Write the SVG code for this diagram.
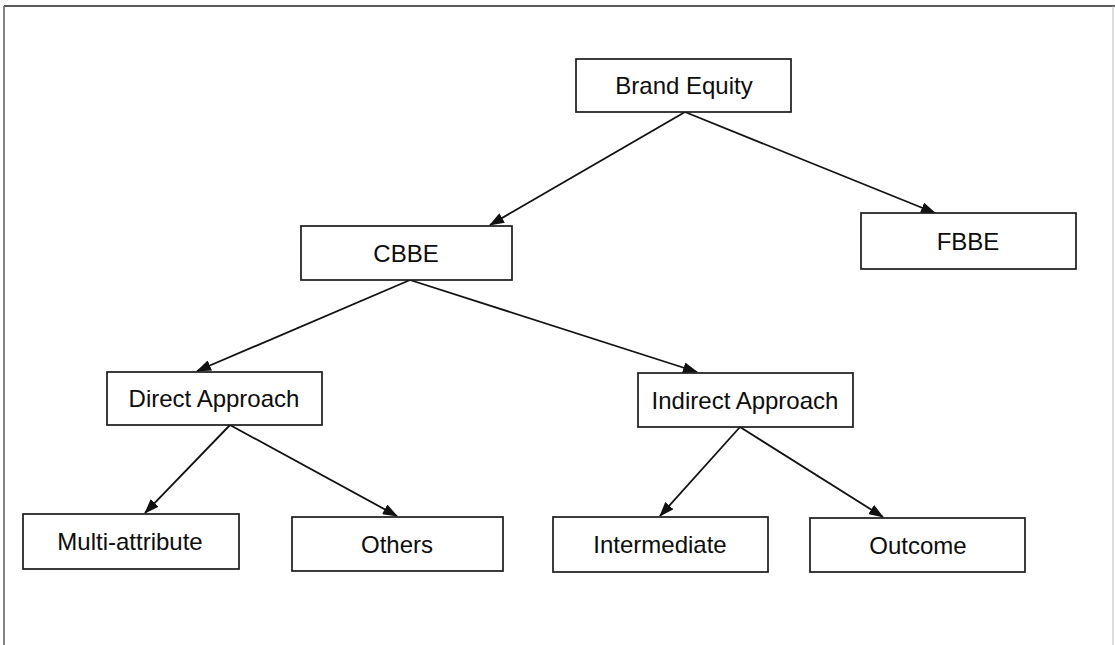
<svg xmlns="http://www.w3.org/2000/svg" width="1115" height="645" viewBox="0 0 1115 645">
  <style>
    .box { fill: #ffffff; stroke: #1a1a1a; stroke-width: 1.7; }
    .label { font-family: "Liberation Sans", Arial, sans-serif; font-size: 24px; fill: #0d0d0d; text-anchor: middle; }
    .link { stroke: #111111; stroke-width: 1.8; fill: none; marker-end: url(#arrow); }
  </style>
  <defs>
    <marker id="arrow" viewBox="0 0 15 11" refX="14" refY="5.5" markerWidth="15" markerHeight="11" markerUnits="userSpaceOnUse" orient="auto">
      <path d="M0,0 L15,5.5 L0,11 Z" fill="#111111"/>
    </marker>
  </defs>

  <rect width="1115" height="645" fill="#ffffff"/>

  <!-- frame -->
  <g id="frame">
    <line x1="4" y1="6" x2="1115" y2="6" stroke="#222222" stroke-width="1.6"/>
    <line x1="4" y1="6" x2="4" y2="645" stroke="#666666" stroke-width="1.6"/>
    <line x1="1113" y1="6" x2="1113" y2="645" stroke="#bbbbbb" stroke-width="1"/>
  </g>

  <!-- connectors -->
  <g id="connectors">
    <line class="link" x1="685" y1="112" x2="490" y2="225"/>
    <line class="link" x1="685" y1="112" x2="935" y2="213"/>
    <line class="link" x1="410" y1="280" x2="197" y2="371"/>
    <line class="link" x1="410" y1="280" x2="697" y2="372"/>
    <line class="link" x1="230" y1="425" x2="145" y2="513"/>
    <line class="link" x1="230" y1="425" x2="397" y2="516"/>
    <line class="link" x1="740" y1="427" x2="660" y2="516"/>
    <line class="link" x1="740" y1="427" x2="883" y2="517"/>
  </g>

  <g id="brand-equity">
    <rect class="box" x="576" y="59" width="215" height="53"/>
    <text class="label" x="684" y="94">Brand Equity</text>
  </g>

  <g id="cbbe">
    <rect class="box" x="301" y="226" width="211" height="54"/>
    <text class="label" x="406" y="262">CBBE</text>
  </g>

  <g id="fbbe">
    <rect class="box" x="861" y="213" width="215" height="56"/>
    <text class="label" x="968" y="250">FBBE</text>
  </g>

  <g id="direct-approach">
    <rect class="box" x="107" y="372" width="215" height="53"/>
    <text class="label" x="214" y="407">Direct Approach</text>
  </g>

  <g id="indirect-approach">
    <rect class="box" x="638" y="373" width="215" height="54"/>
    <text class="label" x="745" y="409">Indirect Approach</text>
  </g>

  <g id="multi-attribute">
    <rect class="box" x="23" y="514" width="216" height="55"/>
    <text class="label" x="130" y="550">Multi-attribute</text>
  </g>

  <g id="others">
    <rect class="box" x="292" y="517" width="211" height="54"/>
    <text class="label" x="397" y="553">Others</text>
  </g>

  <g id="intermediate">
    <rect class="box" x="553" y="517" width="215" height="55"/>
    <text class="label" x="660" y="553">Intermediate</text>
  </g>

  <g id="outcome">
    <rect class="box" x="810" y="518" width="215" height="54"/>
    <text class="label" x="918" y="554">Outcome</text>
  </g>
</svg>
